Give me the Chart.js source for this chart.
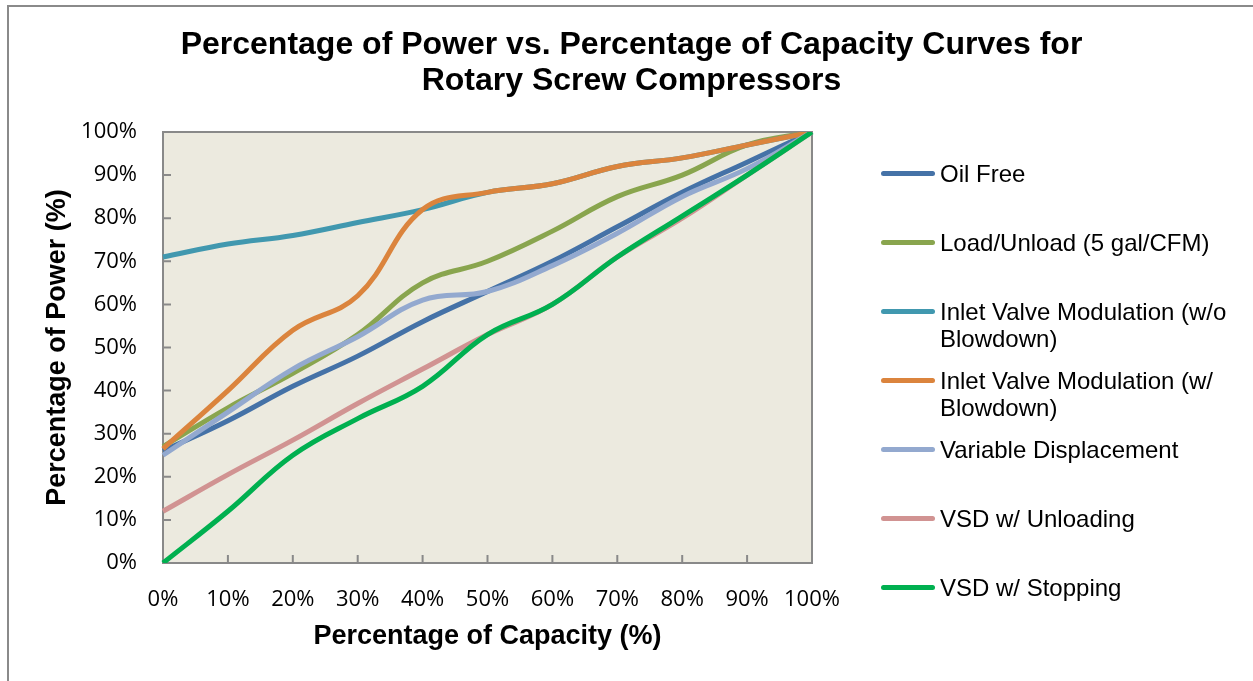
<!DOCTYPE html>
<html>
<head>
<meta charset="utf-8">
<script src="https://cdn.jsdelivr.net/npm/chart.js@4.4.0/dist/chart.umd.min.js"></script>
<style>
    body { margin: 0; background: #fff; }
    #wrap { position: relative; width: 1253px; height: 681px; overflow: hidden; }
    #frame { position: absolute; left: 7px; top: 5px; width: 1300px; height: 700px;
             border-left: 2px solid #8a8a8a; border-top: 2px solid #8a8a8a; }
    #chart { position: absolute; left: 0; top: 0; }
    #legend { position: absolute; left: 0; top: 0; font-family: "Liberation Sans", Arial, sans-serif;
              font-size: 24px; color: #000; }
    .item { position: absolute; left: 881px; display: flex; }
    .swatch { width: 54px; height: 5px; border-radius: 3px; margin-top: 11px; }
    .label { width: 305px; margin-left: 5px; line-height: 27px; }
</style>
</head>
<body>
<div id="wrap">
    <div id="frame"></div>
    <canvas id="chart" width="1253" height="681"></canvas>
    <div id="legend"></div>
</div>
<script>
// x categories (percentage of capacity)
const xLabels = ['0%', '10%', '20%', '30%', '40%', '50%', '60%', '70%', '80%', '90%', '100%'];

// percentage of power for each control type
const oilFree = [26, 33, 41, 48, 56, 63, 70, 78, 86, 93, 100];
const loadUnload = [27, 36, 44, 53, 65, 70, 77, 85, 90, 97, 100];
const inletNoBlowdown = [71, 74, 76, 79, 82, 86, 88, 92, 94, 97, 100];
const inletBlowdown = [26.5, 40, 54, 62, 82, 86, 88, 92, 94, 97, 100];
const variableDisp = [25, 35, 45, 52.5, 61, 63, 69, 76.5, 85, 91.5, 100];
const vsdUnloading = [12, 20.5, 28.5, 37, 45, 53, 60, 71, 80, 90, 100];
const vsdStopping = [0, 12, 25, 33.5, 41, 53, 60, 71, 80.5, 90, 100];

const seriesLabels = [
    'Oil Free',
    'Load/Unload (5 gal/CFM)',
    'Inlet Valve Modulation (w/o Blowdown)',
    'Inlet Valve Modulation (w/ Blowdown)',
    'Variable Displacement',
    'VSD w/ Unloading',
    'VSD w/ Stopping'
];
const seriesValues = [oilFree, loadUnload, inletNoBlowdown, inletBlowdown, variableDisp, vsdUnloading, vsdStopping];
const seriesColors = ['#4572a7', '#89a54e', '#4198af', '#db843d', '#93a9cf', '#d19392', '#00b050'];

const arial = '"Liberation Sans", Arial, sans-serif';
const tickFont = { family: '"Open Sans", sans-serif', size: 22 };
const axisTitleFont = { family: arial, size: 27, weight: 'bold' };
const frameColor = '#898989';

// plot background, box and inside tick marks
const plotFrame = {
    id: 'plotFrame',
    beforeDatasetsDraw(chart) {
        const { ctx, chartArea: a, scales: { x, y } } = chart;
        ctx.save();
        ctx.fillStyle = '#eceadf';
        ctx.fillRect(a.left, a.top, a.width, a.height);
        ctx.strokeStyle = frameColor;
        ctx.lineWidth = 2;
        ctx.strokeRect(a.left, a.top, a.width, a.height);
        ctx.beginPath();
        y.ticks.forEach(t => {
            const py = y.getPixelForValue(t.value);
            ctx.moveTo(a.left, py);
            ctx.lineTo(a.left + 8, py);
        });
        xLabels.forEach((l, i) => {
            const px = x.getPixelForValue(i);
            ctx.moveTo(px, a.bottom);
            ctx.lineTo(px, a.bottom - 8);
        });
        ctx.stroke();
        ctx.restore();
    }
};

new Chart(document.getElementById('chart'), {
    type: 'line',
    data: {
        labels: xLabels,
        datasets: seriesValues.map((vals, i) => ({
            label: seriesLabels[i],
            data: vals,
            borderColor: seriesColors[i],
            backgroundColor: seriesColors[i],
            borderWidth: 5,
            pointRadius: 0,
            tension: 0.4,
            fill: false,
            order: seriesValues.length - i, // later series on top, like the original
        }))
    },
    options: {
        responsive: false,
        animation: false,
        layout: { padding: { left: 10, top: 0, right: 0, bottom: 0 } },
        plugins: {
            legend: { display: false },
            tooltip: { enabled: false },
            title: {
                display: true,
                text: ['Percentage of Power vs. Percentage of Capacity Curves for', 'Rotary Screw Compressors'],
                color: '#000',
                font: { family: arial, size: 32, weight: 'bold', lineHeight: 1.125 },
                padding: { top: 27, bottom: 33 },
            }
        },
        scales: {
            x: {
                offset: false,
                grid: { display: false, drawTicks: false },
                border: { display: false },
                ticks: { font: tickFont, color: '#000', padding: 24, maxRotation: 0, autoSkip: false },
                title: {
                    display: true,
                    text: 'Percentage of Capacity (%)',
                    color: '#000',
                    font: axisTitleFont,
                    padding: { top: 0, bottom: 28 },
                },
                afterFit: s => { s.height = 118; },
            },
            y: {
                min: 0,
                max: 100,
                grid: { display: false, drawTicks: false },
                border: { display: false },
                ticks: { stepSize: 10, font: tickFont, color: '#000', padding: 26, callback: v => v + '%' },
                title: {
                    display: true,
                    text: 'Percentage of Power (%)',
                    color: '#000',
                    font: axisTitleFont,
                    padding: { top: 31, bottom: 0 },
                },
                afterFit: s => { s.width = 153; },
            },
            // empty right-hand strip that leaves room for the legend
            side: {
                position: 'right',
                grid: { display: false, drawTicks: false },
                border: { display: false },
                ticks: { display: false },
                afterFit: s => { s.width = 441; },
            }
        }
    },
    plugins: [plotFrame],
});

// legend on the right, one slot per series
const legendEl = document.getElementById('legend');
seriesLabels.forEach((name, i) => {
    const item = document.createElement('div');
    item.className = 'item';
    item.style.top = (173 + 69 * i - 13.5) + 'px';
    item.innerHTML = '<div class="swatch" style="background:' + seriesColors[i] + '"></div>' +
        '<div class="label">' + name + '</div>';
    legendEl.appendChild(item);
});
</script>
</body>
</html>
